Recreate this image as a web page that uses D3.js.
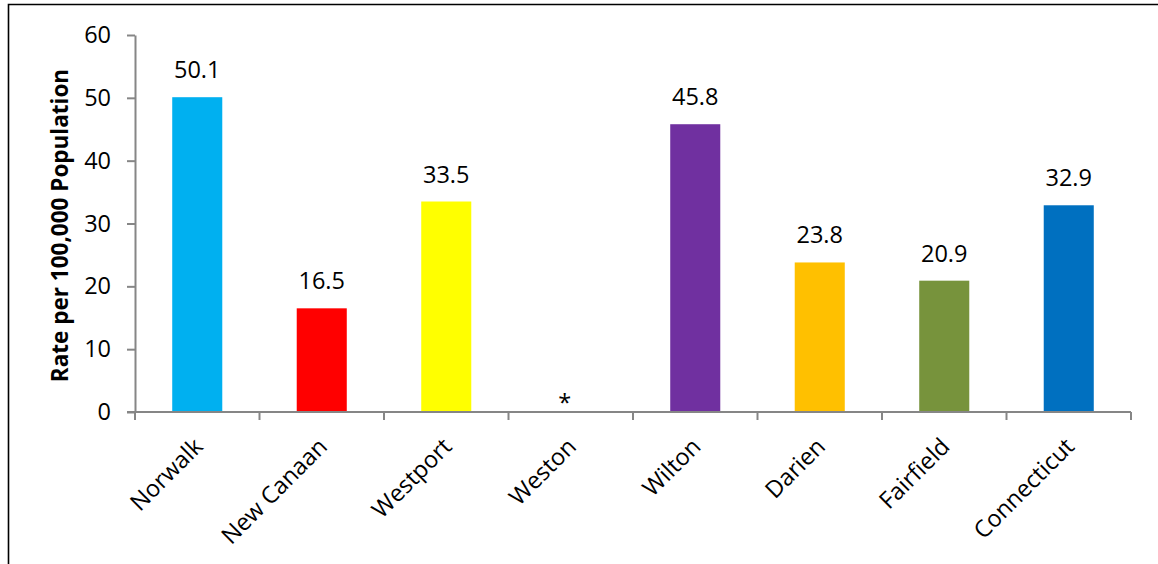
<!DOCTYPE html>
<html>
<head>
<meta charset="utf-8">
<script src="https://cdn.jsdelivr.net/npm/d3@7"></script>
<style>
  html, body { margin: 0; padding: 0; background: #fff; }
  svg { display: block; }
  text { font-family: "Open Sans", "Noto Sans", sans-serif; fill: #000; }
</style>
</head>
<body>
<svg id="chart" width="1158" height="564"></svg>
<script>
const categories = ["Norwalk", "New Canaan", "Westport", "Weston", "Wilton", "Darien", "Fairfield", "Connecticut"];
const values = [50.1, 16.5, 33.5, null, 45.8, 23.8, 20.9, 32.9];
const valueLabels = ["50.1", "16.5", "33.5", "*", "45.8", "23.8", "20.9", "32.9"];
const colors = ["#00B0F0", "#FF0000", "#FFFF00", "#FFFFFF", "#7030A0", "#FFC000", "#77933C", "#0070C0"];
const yTicks = [0, 10, 20, 30, 40, 50, 60];
const yTitle = "Rate per 100,000 Population";

(function () {
const svg = d3.select("#chart");
const W = 1158, H = 564;
const mLeft = 135, mRight = 1131, mTop = 35, mBottom = 412;
const fs = 23.5;

// frame (partially visible border)
svg.append("path")
  .attr("d", `M8.5,${H} L8.5,4.5 L${W},4.5`)
  .attr("fill", "none").attr("stroke", "#000").attr("stroke-width", 1.6);

const p = 0.598;
const x = d3.scaleBand().domain(categories).range([mLeft, mRight]).paddingInner(p).paddingOuter(p / 2);
const y = d3.scaleLinear().domain([0, 60]).range([mBottom, mTop]);

// y axis
const yAxis = svg.append("g")
  .attr("transform", `translate(${mLeft},0)`)
  .call(d3.axisLeft(y).tickValues(yTicks).tickSize(8).tickSizeOuter(0).tickPadding(16));
yAxis.select(".domain").attr("stroke", "#868686").attr("stroke-width", 2);
yAxis.selectAll(".tick line").attr("stroke", "#868686").attr("stroke-width", 2);
yAxis.selectAll(".tick text").attr("font-size", fs).attr("font-family", "Open Sans").attr("fill", "#000");

const rows = categories.map((c, i) => ({ c, v: values[i], col: colors[i], lab: valueLabels[i] }));

// bars
svg.append("g").selectAll("rect")
  .data(rows.filter(d => d.v !== null))
  .join("rect")
  .attr("x", d => x(d.c))
  .attr("y", d => y(d.v))
  .attr("width", x.bandwidth())
  .attr("height", d => y(0) - y(d.v))
  .attr("fill", d => d.col);

// value labels
svg.append("g").selectAll("text")
  .data(rows)
  .join("text")
  .attr("x", d => x(d.c) + x.bandwidth() / 2 + (d.v === null ? -6 : 0))
  .attr("y", d => d.v === null ? y(0) - 1 : y(d.v) - 19)
  .attr("text-anchor", "middle")
  .attr("font-size", fs)
  .text(d => d.lab);

// x axis line and boundary ticks
const step = x.step();
const bounds = d3.range(categories.length + 1).map(i => mLeft + i * step);
const xAxis = svg.append("g");
xAxis.append("line")
  .attr("x1", mLeft - 8).attr("x2", mRight)
  .attr("y1", mBottom).attr("y2", mBottom)
  .attr("stroke", "#868686").attr("stroke-width", 2);
xAxis.selectAll("line.tk").data(bounds).join("line").attr("class", "tk")
  .attr("x1", d => d).attr("x2", d => d)
  .attr("y1", mBottom).attr("y2", mBottom + 8)
  .attr("stroke", "#868686").attr("stroke-width", 2);

// category labels rotated
xAxis.selectAll("text.cat").data(categories).join("text").attr("class", "cat")
  .attr("transform", d => `translate(${x(d) + x.bandwidth() / 2 + 7},${mBottom + 36}) rotate(-45)`)
  .attr("text-anchor", "end")
  .attr("font-size", fs)
  .text(d => d);

// y title
svg.append("text")
  .attr("transform", `translate(68,${(mTop + mBottom) / 2 + 2}) rotate(-90)`)
  .attr("text-anchor", "middle")
  .attr("font-size", 22.5)
  .attr("font-weight", "bold")
  .text(yTitle);
})();
</script>
</body>
</html>
